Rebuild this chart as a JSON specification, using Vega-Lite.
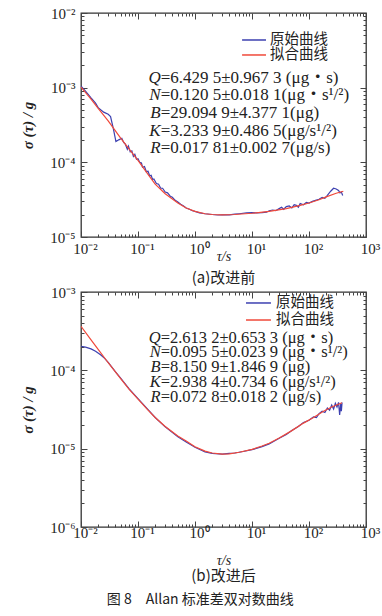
{
  "$schema": "https://vega.github.io/schema/vega-lite/v6.json",
  "padding": {"left": 20, "top": 5, "right": 0, "bottom": 0},
  "background": "white",
  "datasets": {
    "a_raw": [
      {"t":0.01,"s":1.05e-3},{"t":0.012,"s":9.0e-4},{"t":0.015,"s":7.3e-4},{"t":0.018,"s":6.2e-4},{"t":0.02,"s":5.4e-4},{"t":0.025,"s":4.7e-4},{"t":0.03,"s":4.4e-4},{"t":0.033,"s":4.1e-4},{"t":0.037,"s":2.8e-4},{"t":0.041,"s":1.9e-4},{"t":0.046,"s":2.0e-4},{"t":0.052,"s":2.1e-4},{"t":0.056,"s":1.85e-4},{"t":0.06,"s":1.75e-4},{"t":0.065,"s":1.5e-4},{"t":0.068,"s":1.65e-4},{"t":0.073,"s":1.38e-4},{"t":0.078,"s":1.42e-4},{"t":0.083,"s":1.2e-4},{"t":0.088,"s":1.28e-4},{"t":0.094,"s":1.1e-4},{"t":0.1,"s":1.12e-4},{"t":0.107,"s":1.0e-4},{"t":0.115,"s":9.8e-5},{"t":0.12,"s":8.6e-5},{"t":0.13,"s":8.8e-5},{"t":0.14,"s":7.5e-5},{"t":0.15,"s":7.6e-5},{"t":0.16,"s":6.6e-5},{"t":0.17,"s":6.7e-5},{"t":0.18,"s":5.9e-5},{"t":0.19,"s":6.0e-5},{"t":0.21,"s":5.2e-5},{"t":0.23,"s":5.1e-5},{"t":0.25,"s":4.5e-5},{"t":0.27,"s":4.5e-5},{"t":0.3,"s":4.0e-5},{"t":0.33,"s":3.9e-5},{"t":0.37,"s":3.5e-5},{"t":0.4,"s":3.4e-5},{"t":0.45,"s":3.1e-5},{"t":0.5,"s":2.95e-5},{"t":0.56,"s":2.75e-5},{"t":0.63,"s":2.6e-5},{"t":0.7,"s":2.45e-5},{"t":0.8,"s":2.35e-5},{"t":0.9,"s":2.25e-5},{"t":1.0,"s":2.2e-5},{"t":1.2,"s":2.1e-5},{"t":1.5,"s":2.05e-5},{"t":2,"s":2.0e-5},{"t":2.5,"s":1.97e-5},{"t":3,"s":1.98e-5},{"t":4,"s":1.98e-5},{"t":5,"s":2.02e-5},{"t":6,"s":2.05e-5},{"t":8,"s":2.1e-5},{"t":10,"s":2.12e-5},{"t":12,"s":2.1e-5},{"t":15,"s":2.12e-5},{"t":18,"s":2.15e-5},{"t":20,"s":2.25e-5},{"t":23,"s":2.3e-5},{"t":26,"s":2.25e-5},{"t":30,"s":2.4e-5},{"t":33,"s":2.5e-5},{"t":36,"s":2.35e-5},{"t":40,"s":2.55e-5},{"t":45,"s":2.6e-5},{"t":50,"s":2.45e-5},{"t":55,"s":2.7e-5},{"t":60,"s":2.65e-5},{"t":65,"s":2.5e-5},{"t":70,"s":2.8e-5},{"t":80,"s":2.7e-5},{"t":90,"s":2.9e-5},{"t":100,"s":2.85e-5},{"t":115,"s":3.0e-5},{"t":130,"s":3.1e-5},{"t":150,"s":3.2e-5},{"t":170,"s":3.4e-5},{"t":190,"s":3.3e-5},{"t":210,"s":3.6e-5},{"t":240,"s":4.1e-5},{"t":270,"s":4.5e-5},{"t":300,"s":4.4e-5},{"t":330,"s":4.2e-5},{"t":350,"s":3.9e-5},{"t":370,"s":4.0e-5},{"t":390,"s":3.6e-5}
    ],
    "a_fit": [
      {"t":0.01,"s":1.02e-3},{"t":0.015,"s":7.0e-4},{"t":0.02,"s":5.3e-4},{"t":0.03,"s":3.6e-4},{"t":0.05,"s":2.1e-4},{"t":0.07,"s":1.5e-4},{"t":0.1,"s":1.06e-4},{"t":0.15,"s":6.9e-5},{"t":0.2,"s":5.1e-5},{"t":0.3,"s":3.8e-5},{"t":0.5,"s":2.85e-5},{"t":0.7,"s":2.45e-5},{"t":1,"s":2.2e-5},{"t":1.5,"s":2.05e-5},{"t":2,"s":2.0e-5},{"t":3,"s":1.98e-5},{"t":5,"s":2.0e-5},{"t":10,"s":2.08e-5},{"t":20,"s":2.2e-5},{"t":40,"s":2.4e-5},{"t":70,"s":2.65e-5},{"t":100,"s":2.85e-5},{"t":150,"s":3.15e-5},{"t":200,"s":3.45e-5},{"t":300,"s":3.85e-5},{"t":400,"s":4.1e-5}
    ],
    "b_raw": [
      {"t":0.01,"s":2.03e-4},{"t":0.012,"s":1.98e-4},{"t":0.015,"s":1.88e-4},{"t":0.018,"s":1.75e-4},{"t":0.022,"s":1.58e-4},{"t":0.026,"s":1.42e-4},{"t":0.03,"s":1.26e-4},{"t":0.04,"s":9.6e-5},{"t":0.05,"s":7.9e-5},{"t":0.07,"s":5.8e-5},{"t":0.1,"s":4.35e-5},{"t":0.15,"s":3.15e-5},{"t":0.2,"s":2.5e-5},{"t":0.3,"s":1.9e-5},{"t":0.5,"s":1.42e-5},{"t":0.7,"s":1.22e-5},{"t":1,"s":1.04e-5},{"t":1.5,"s":9.1e-6},{"t":2,"s":8.7e-6},{"t":3,"s":8.5e-6},{"t":4,"s":8.7e-6},{"t":5,"s":8.8e-6},{"t":7,"s":9.2e-6},{"t":10,"s":9.7e-6},{"t":15,"s":1.06e-5},{"t":20,"s":1.15e-5},{"t":30,"s":1.36e-5},{"t":40,"s":1.52e-5},{"t":50,"s":1.7e-5},{"t":65,"s":1.92e-5},{"t":80,"s":2.15e-5},{"t":100,"s":2.3e-5},{"t":120,"s":2.55e-5},{"t":135,"s":2.5e-5},{"t":150,"s":2.8e-5},{"t":170,"s":3.0e-5},{"t":190,"s":2.9e-5},{"t":210,"s":3.3e-5},{"t":230,"s":3.1e-5},{"t":250,"s":3.6e-5},{"t":270,"s":3.2e-5},{"t":290,"s":3.8e-5},{"t":310,"s":3.4e-5},{"t":330,"s":3.9e-5},{"t":345,"s":2.7e-5},{"t":360,"s":3.7e-5},{"t":370,"s":3.0e-5},{"t":380,"s":3.9e-5}
    ],
    "b_fit": [
      {"t":0.01,"s":3.65e-4},{"t":0.015,"s":2.45e-4},{"t":0.02,"s":1.85e-4},{"t":0.03,"s":1.25e-4},{"t":0.05,"s":7.8e-5},{"t":0.07,"s":5.7e-5},{"t":0.1,"s":4.3e-5},{"t":0.15,"s":3.1e-5},{"t":0.2,"s":2.5e-5},{"t":0.3,"s":1.92e-5},{"t":0.5,"s":1.45e-5},{"t":0.7,"s":1.25e-5},{"t":1,"s":1.06e-5},{"t":1.5,"s":9.3e-6},{"t":2,"s":8.8e-6},{"t":3,"s":8.5e-6},{"t":4,"s":8.6e-6},{"t":6,"s":9.0e-6},{"t":10,"s":9.8e-6},{"t":15,"s":1.08e-5},{"t":20,"s":1.17e-5},{"t":30,"s":1.37e-5},{"t":50,"s":1.7e-5},{"t":80,"s":2.12e-5},{"t":120,"s":2.5e-5},{"t":180,"s":3.0e-5},{"t":250,"s":3.4e-5},{"t":380,"s":3.85e-5}
    ]
  },
  "config": {
    "view": {"stroke": "#333", "strokeWidth": 1.3},
    "axis": {"grid": false, "domain": false, "labelFont": "Liberation Serif", "labelFontSize": 15, "labelColor": "#222", "labelFlush": false, "labelOverlap": false, "tickColor": "#444", "tickWidth": 1, "titleFont": "Liberation Serif", "titleFontSize": 15, "titleColor": "#222", "titleFontWeight": "normal"},
    "title": {"font": "Noto Sans CJK SC", "fontSize": 15, "fontWeight": "normal", "color": "#222"}
  },
  "title": {"text": "图 8　Allan 标准差双对数曲线", "orient": "bottom", "anchor": "middle", "fontSize": 14, "offset": 8},
  "spacing": -3,
  "vconcat": [
    {
      "width": 285, "height": 224,
      "title": {"text": "(a)改进前", "orient": "bottom", "anchor": "middle", "offset": 8},
      "resolve": {"axis": {"x": "independent", "y": "independent"}},
      "layer": [
        {
          "data": {"name": "a_raw"},
          "mark": {"type": "line", "strokeWidth": 1.2, "clip": true, "color": "#3c40b0"},
          "encoding": {
            "x": {"field": "t", "type": "quantitative", "scale": {"type": "log", "domain": [0.01, 1000]}, "axis": {"orient": "bottom", "values": [0.01, 0.1, 1, 10, 100, 1000], "tickSize": -6, "labelPadding": 10, "labelOffset": 4, "title": "τ/s", "titleFontStyle": "italic", "titleFontSize": 14, "titlePadding": -7, "labelExpr": "'10' + ['⁻⁶','⁻⁵','⁻⁴','⁻³','⁻²','⁻¹','⁰','¹','²','³'][round(log(datum.value)/LN10)+6]"}},
            "y": {"field": "s", "type": "quantitative", "scale": {"type": "log", "domain": [0.00001, 0.01]}, "axis": {"orient": "left", "values": [0.00001, 0.0001, 0.001, 0.01], "tickSize": -6, "labelPadding": 12, "title": "σ (τ) / g", "titleFontStyle": "italic", "titleFontWeight": "bold", "titlePadding": 14, "labelExpr": "'10' + ['⁻⁶','⁻⁵','⁻⁴','⁻³','⁻²','⁻¹','⁰','¹','²','³'][round(log(datum.value)/LN10)+6]"}}
          }
        },
        {
          "data": {"name": "a_fit"},
          "mark": {"type": "line", "strokeWidth": 1.2, "clip": true, "color": "#f0493a"},
          "encoding": {
            "x": {"field": "t", "type": "quantitative", "scale": {"type": "log", "domain": [0.01, 1000]}, "axis": {"orient": "top", "values": [0.01, 0.1, 1, 10, 100, 1000], "tickSize": -6, "labels": false, "title": null}},
            "y": {"field": "s", "type": "quantitative", "scale": {"type": "log", "domain": [0.00001, 0.01]}, "axis": {"orient": "right", "values": [0.00001, 0.0001, 0.001, 0.01], "tickSize": -6, "labels": false, "title": null}}
          }
        },
        {
          "data": {"values": [{}]},
          "mark": {"type": "text", "align": "right", "baseline": "top", "font": "Liberation Serif", "fontStyle": "italic", "fontSize": 17, "lineHeight": 17.7, "color": "#222", "text": ["Q", "N", "B", "K", "R"]},
          "encoding": {
            "x": {"datum": 0.25, "type": "quantitative", "scale": {"type": "log", "domain": [0.01, 1000]}, "axis": {"orient": "bottom", "values": [0.02,0.03,0.04,0.05,0.06,0.07,0.08,0.09,0.2,0.3,0.4,0.5,0.6,0.7,0.8,0.9,2,3,4,5,6,7,8,9,20,30,40,50,60,70,80,90,200,300,400,500,600,700,800,900], "tickSize": -3, "labels": false, "title": null}},
            "y": {"datum": 0.00175, "type": "quantitative", "scale": {"type": "log", "domain": [0.00001, 0.01]}, "axis": {"orient": "left", "values": [0.00002,0.00003,0.00004,0.00005,0.00006,0.00007,0.00008,0.00009,0.0002,0.0003,0.0004,0.0005,0.0006,0.0007,0.0008,0.0009,0.002,0.003,0.004,0.005,0.006,0.007,0.008,0.009], "tickSize": -3, "labels": false, "title": null}}
          }
        },
        {
          "data": {"values": [{}]},
          "mark": {"type": "text", "align": "left", "baseline": "top", "font": "Liberation Serif, Noto Sans CJK SC", "fontSize": 17, "lineHeight": 17.7, "color": "#222", "text": ["=6.429 5±0.967 3 (μg・s)", "=0.120 5±0.018 1(μg・s¹/²)", "=29.094 9±4.377 1(μg)", "=3.233 9±0.486 5(μg/s¹/²)", "=0.017 81±0.002 7(μg/s)"]},
          "encoding": {
            "x": {"datum": 0.25, "type": "quantitative", "scale": {"type": "log", "domain": [0.01, 1000]}, "axis": {"orient": "top", "values": [0.02,0.03,0.04,0.05,0.06,0.07,0.08,0.09,0.2,0.3,0.4,0.5,0.6,0.7,0.8,0.9,2,3,4,5,6,7,8,9,20,30,40,50,60,70,80,90,200,300,400,500,600,700,800,900], "tickSize": -3, "labels": false, "title": null}},
            "y": {"datum": 0.00175, "type": "quantitative", "scale": {"type": "log", "domain": [0.00001, 0.01]}, "axis": {"orient": "right", "values": [0.00002,0.00003,0.00004,0.00005,0.00006,0.00007,0.00008,0.00009,0.0002,0.0003,0.0004,0.0005,0.0006,0.0007,0.0008,0.0009,0.002,0.003,0.004,0.005,0.006,0.007,0.008,0.009], "tickSize": -3, "labels": false, "title": null}}
          }
        },
        {
          "data": {"values": [{}]},
          "mark": {"type": "rule", "strokeWidth": 1.5, "color": "#3c40b0"},
          "encoding": {
            "x": {"datum": 6.7, "type": "quantitative", "scale": {"type": "log", "domain": [0.01, 1000]}, "axis": null},
            "x2": {"datum": 17.6},
            "y": {"datum": 0.00435, "type": "quantitative", "scale": {"type": "log", "domain": [0.00001, 0.01]}, "axis": null}
          }
        },
        {
          "data": {"values": [{}]},
          "mark": {"type": "rule", "strokeWidth": 1.5, "color": "#f0493a"},
          "encoding": {
            "x": {"datum": 6.7, "type": "quantitative", "scale": {"type": "log", "domain": [0.01, 1000]}, "axis": null},
            "x2": {"datum": 17.6},
            "y": {"datum": 0.00274, "type": "quantitative", "scale": {"type": "log", "domain": [0.00001, 0.01]}, "axis": null}
          }
        },
        {
          "data": {"values": [{}]},
          "mark": {"type": "text", "align": "left", "baseline": "middle", "font": "Noto Sans CJK SC", "fontSize": 14.5, "color": "#222", "text": "原始曲线"},
          "encoding": {
            "x": {"datum": 20.7, "type": "quantitative", "scale": {"type": "log", "domain": [0.01, 1000]}, "axis": null},
            "y": {"datum": 0.00435, "type": "quantitative", "scale": {"type": "log", "domain": [0.00001, 0.01]}, "axis": null}
          }
        },
        {
          "data": {"values": [{}]},
          "mark": {"type": "text", "align": "left", "baseline": "middle", "font": "Noto Sans CJK SC", "fontSize": 14.5, "color": "#222", "text": "拟合曲线"},
          "encoding": {
            "x": {"datum": 20.7, "type": "quantitative", "scale": {"type": "log", "domain": [0.01, 1000]}, "axis": null},
            "y": {"datum": 0.00274, "type": "quantitative", "scale": {"type": "log", "domain": [0.00001, 0.01]}, "axis": null}
          }
        }
      ]
    },
    {
      "width": 285, "height": 235,
      "title": {"text": "(b)改进后", "orient": "bottom", "anchor": "middle", "offset": 2},
      "resolve": {"axis": {"x": "independent", "y": "independent"}},
      "layer": [
        {
          "data": {"name": "b_raw"},
          "mark": {"type": "line", "strokeWidth": 1.2, "clip": true, "color": "#3c40b0"},
          "encoding": {
            "x": {"field": "t", "type": "quantitative", "scale": {"type": "log", "domain": [0.01, 1000]}, "axis": {"orient": "bottom", "values": [0.01, 0.1, 1, 10, 100, 1000], "tickSize": -6, "labelPadding": 4, "labelOffset": 4, "title": "τ/s", "titleFontStyle": "italic", "titleFontSize": 14, "titlePadding": 13, "labelExpr": "'10' + ['⁻⁶','⁻⁵','⁻⁴','⁻³','⁻²','⁻¹','⁰','¹','²','³'][round(log(datum.value)/LN10)+6]"}},
            "y": {"field": "s", "type": "quantitative", "scale": {"type": "log", "domain": [0.000001, 0.001]}, "axis": {"orient": "left", "values": [0.000001, 0.00001, 0.0001, 0.001], "tickSize": -6, "labelPadding": 12, "title": "σ (τ) / g", "titleFontStyle": "italic", "titleFontWeight": "bold", "titlePadding": 14, "labelExpr": "'10' + ['⁻⁶','⁻⁵','⁻⁴','⁻³','⁻²','⁻¹','⁰','¹','²','³'][round(log(datum.value)/LN10)+6]"}}
          }
        },
        {
          "data": {"name": "b_fit"},
          "mark": {"type": "line", "strokeWidth": 1.2, "clip": true, "color": "#f0493a"},
          "encoding": {
            "x": {"field": "t", "type": "quantitative", "scale": {"type": "log", "domain": [0.01, 1000]}, "axis": {"orient": "top", "values": [0.01, 0.1, 1, 10, 100, 1000], "tickSize": -6, "labels": false, "title": null}},
            "y": {"field": "s", "type": "quantitative", "scale": {"type": "log", "domain": [0.000001, 0.001]}, "axis": {"orient": "right", "values": [0.000001, 0.00001, 0.0001, 0.001], "tickSize": -6, "labels": false, "title": null}}
          }
        },
        {
          "data": {"values": [{}]},
          "mark": {"type": "text", "align": "right", "baseline": "top", "font": "Liberation Serif", "fontStyle": "italic", "fontSize": 16.5, "lineHeight": 14.7, "color": "#222", "text": ["Q", "N", "B", "K", "R"]},
          "encoding": {
            "x": {"datum": 0.25, "type": "quantitative", "scale": {"type": "log", "domain": [0.01, 1000]}, "axis": {"orient": "bottom", "values": [0.02,0.03,0.04,0.05,0.06,0.07,0.08,0.09,0.2,0.3,0.4,0.5,0.6,0.7,0.8,0.9,2,3,4,5,6,7,8,9,20,30,40,50,60,70,80,90,200,300,400,500,600,700,800,900], "tickSize": -3, "labels": false, "title": null}},
            "y": {"datum": 0.00033, "type": "quantitative", "scale": {"type": "log", "domain": [0.000001, 0.001]}, "axis": {"orient": "left", "values": [0.000002,0.000003,0.000004,0.000005,0.000006,0.000007,0.000008,0.000009,0.00002,0.00003,0.00004,0.00005,0.00006,0.00007,0.00008,0.00009,0.0002,0.0003,0.0004,0.0005,0.0006,0.0007,0.0008,0.0009], "tickSize": -3, "labels": false, "title": null}}
          }
        },
        {
          "data": {"values": [{}]},
          "mark": {"type": "text", "align": "left", "baseline": "top", "font": "Liberation Serif, Noto Sans CJK SC", "fontSize": 16.5, "lineHeight": 14.7, "color": "#222", "text": ["=2.613 2±0.653 3 (μg・s)", "=0.095 5±0.023 9 (μg・s¹/²)", "=8.150 9±1.846 9 (μg)", "=2.938 4±0.734 6 (μg/s¹/²)", "=0.072 8±0.018 2 (μg/s)"]},
          "encoding": {
            "x": {"datum": 0.25, "type": "quantitative", "scale": {"type": "log", "domain": [0.01, 1000]}, "axis": {"orient": "top", "values": [0.02,0.03,0.04,0.05,0.06,0.07,0.08,0.09,0.2,0.3,0.4,0.5,0.6,0.7,0.8,0.9,2,3,4,5,6,7,8,9,20,30,40,50,60,70,80,90,200,300,400,500,600,700,800,900], "tickSize": -3, "labels": false, "title": null}},
            "y": {"datum": 0.00033, "type": "quantitative", "scale": {"type": "log", "domain": [0.000001, 0.001]}, "axis": {"orient": "right", "values": [0.000002,0.000003,0.000004,0.000005,0.000006,0.000007,0.000008,0.000009,0.00002,0.00003,0.00004,0.00005,0.00006,0.00007,0.00008,0.00009,0.0002,0.0003,0.0004,0.0005,0.0006,0.0007,0.0008,0.0009], "tickSize": -3, "labels": false, "title": null}}
          }
        },
        {
          "data": {"values": [{}]},
          "mark": {"type": "rule", "strokeWidth": 1.5, "color": "#3c40b0"},
          "encoding": {
            "x": {"datum": 7.85, "type": "quantitative", "scale": {"type": "log", "domain": [0.01, 1000]}, "axis": null},
            "x2": {"datum": 21.5},
            "y": {"datum": 0.000724, "type": "quantitative", "scale": {"type": "log", "domain": [0.000001, 0.001]}, "axis": null}
          }
        },
        {
          "data": {"values": [{}]},
          "mark": {"type": "rule", "strokeWidth": 1.5, "color": "#f0493a"},
          "encoding": {
            "x": {"datum": 7.85, "type": "quantitative", "scale": {"type": "log", "domain": [0.01, 1000]}, "axis": null},
            "x2": {"datum": 21.5},
            "y": {"datum": 0.000439, "type": "quantitative", "scale": {"type": "log", "domain": [0.000001, 0.001]}, "axis": null}
          }
        },
        {
          "data": {"values": [{}]},
          "mark": {"type": "text", "align": "left", "baseline": "middle", "font": "Noto Sans CJK SC", "fontSize": 14.5, "color": "#222", "text": "原始曲线"},
          "encoding": {
            "x": {"datum": 26.3, "type": "quantitative", "scale": {"type": "log", "domain": [0.01, 1000]}, "axis": null},
            "y": {"datum": 0.000724, "type": "quantitative", "scale": {"type": "log", "domain": [0.000001, 0.001]}, "axis": null}
          }
        },
        {
          "data": {"values": [{}]},
          "mark": {"type": "text", "align": "left", "baseline": "middle", "font": "Noto Sans CJK SC", "fontSize": 14.5, "color": "#222", "text": "拟合曲线"},
          "encoding": {
            "x": {"datum": 26.3, "type": "quantitative", "scale": {"type": "log", "domain": [0.01, 1000]}, "axis": null},
            "y": {"datum": 0.000439, "type": "quantitative", "scale": {"type": "log", "domain": [0.000001, 0.001]}, "axis": null}
          }
        }
      ]
    }
  ]
}
